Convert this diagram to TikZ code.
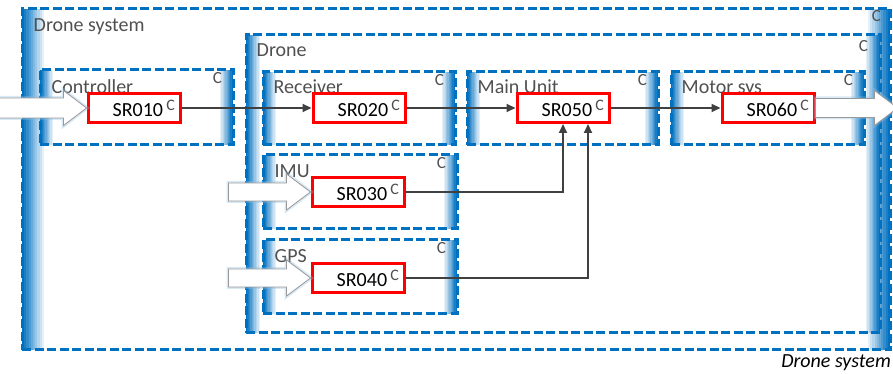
\documentclass[tikz,border=0pt]{standalone}
\usepackage{fontspec}
\setmainfont{Carlito}
\usetikzlibrary{positioning, arrows.meta}
\definecolor{sysblue}{RGB}{0, 112, 192}
\definecolor{reqred}{RGB}{255, 0, 0}
\definecolor{labelgrey}{RGB}{80, 80, 80}
\definecolor{linkgrey}{RGB}{64, 64, 64}
\newcommand{\reqid}[1]{#1\,\raisebox{6pt}{\fontsize{16}{16}\selectfont\color{labelgrey}C}}

\begin{document}
\begin{tikzpicture}[x=1pt, y=1pt,
      block/.style={draw=sysblue, line width=3pt, dash pattern=on 9pt off 3.5pt,
                    inner sep=0pt,
                    path picture={
                      \foreach \k in {10,...,1} {
                        \pgfmathtruncatemacro{\pct}{110-10*\k}
                        \fill[sysblue!\pct!white]
                          (path picture bounding box.south west)
                          rectangle ([xshift=\k*#1/10]path picture bounding box.north west);
                        \fill[sysblue!\pct!white]
                          ([xshift=-\k*#1/10]path picture bounding box.south east)
                          rectangle (path picture bounding box.north east);
                      }}},
      block/.default=13pt,
      lbl/.style={text=labelgrey, font=\fontsize{20}{23}\selectfont, inner sep=0pt},
      cmark/.style={text=labelgrey, font=\fontsize{17}{17}\selectfont, inner sep=0pt},
      req/.style={draw=reqred, line width=3pt, fill=white, minimum height=29pt,
                  inner xsep=5pt, inner ysep=0pt, text width=82pt, align=right,
                  font=\fontsize{20}{23}\selectfont},
      link/.style={-{Triangle[length=9pt, width=8pt]}, line width=2pt, color=linkgrey},
      bigarrow/.style={fill=white, draw=gray!80, line width=0.8pt, line join=miter,
                       preaction={draw=sysblue!45, line width=4pt, opacity=0.35}}]
    \useasboundingbox (0,0) rectangle (893,374);

    % containers
    \node[block=22pt, minimum width=868pt, minimum height=341pt] (sys) at (456,194.5) {};
    \node[block=14pt, minimum width=634pt, minimum height=298pt] (drone) at (563,190) {};
    \node[block, minimum width=193pt, minimum height=75pt] (ctrl) at (136.5,266.5) {};
    \node[block, minimum width=192pt, minimum height=73pt] (recv) at (359,265.5) {};
    \node[block, minimum width=191pt, minimum height=73pt] (main) at (562.5,265.5) {};
    \node[block, minimum width=193pt, minimum height=73pt] (motor) at (767.5,265.5) {};
    \node[block, minimum width=194pt, minimum height=74pt] (imu) at (360,182) {};
    \node[block, minimum width=194pt, minimum height=74pt] (gps) at (360,97) {};

    % names
    \node[lbl, anchor=base west] at ([shift={(13,-24)}]sys.north west) {Drone system};
    \node[lbl, anchor=base west] at ([shift={(12,-23)}]drone.north west) {Drone};
    \node[lbl, anchor=base west] at ([shift={(13,-25)}]ctrl.north west) {Controller};
    \node[lbl, anchor=base west] at ([shift={(12,-23)}]recv.north west) {Receiver};
    \node[lbl, anchor=base west] at ([shift={(12,-23)}]main.north west) {Main Unit};
    \node[lbl, anchor=base west] at ([shift={(12,-23)}]motor.north west) {Motor sys};
    \node[lbl, anchor=base west] at ([shift={(13,-24)}]imu.north west) {IMU};
    \node[lbl, anchor=base west] at ([shift={(13,-24)}]gps.north west) {GPS};

    % C marks
    \node[cmark] at ([shift={(-15,-9)}]sys.north east) {C};
    \node[cmark] at ([shift={(-18,-13)}]drone.north east) {C};
    \foreach \b in {ctrl, recv, main, motor, imu, gps}
      \node[cmark] at ([shift={(-17,-10)}]\b.north east) {C};

    % requirements
    \node[req] (sr010) at (134,266) {\reqid{SR010}};
    \node[req] (sr020) at (359,266) {\reqid{SR020}};
    \node[req] (sr050) at (563,266) {\reqid{SR050}};
    \node[req] (sr060) at (768,266) {\reqid{SR060}};
    \node[req] (sr030) at (358,182) {\reqid{SR030}};
    \node[req] (sr040) at (358,96) {\reqid{SR040}};

    \draw[link] (sr010) -- (sr020);
    \draw[link] (sr020) -- (sr050);
    \draw[link] (sr050) -- (sr060);
    \draw[link] (sr030.east) -| (sr050.south);
    \draw[link] (sr040.east) -| ([xshift=25pt]sr050.south);

    % inputs and output
    \draw[bigarrow] (sr010.west) -- ++(-23,17.5) -- ++(0,-7.5) -- ++(-65,0)
      -- ++(0,-20) -- ++(65,0) -- ++(0,-7.5) -- cycle;
    \draw[bigarrow] (sr030.west) -- ++(-24,18) -- ++(0,-9) -- ++(-58,0)
      -- ++(0,-18) -- ++(58,0) -- ++(0,-9) -- cycle;
    \draw[bigarrow] (sr040.west) -- ++(-24,18) -- ++(0,-9) -- ++(-58,0)
      -- ++(0,-18) -- ++(58,0) -- ++(0,-9) -- cycle;
    \draw[bigarrow] ([yshift=9.5pt]sr060.east) -- ++(59,0) -- ++(0,8) -- ++(23,-17.5)
      -- ++(-23,-17.5) -- ++(0,8) -- ++(-59,0) -- cycle;

    \node[font=\fontsize{20}{23}\selectfont\itshape, inner sep=0pt, anchor=base east]
      (caption) at (891,6) {Drone system};
  \end{tikzpicture}
\end{document}
